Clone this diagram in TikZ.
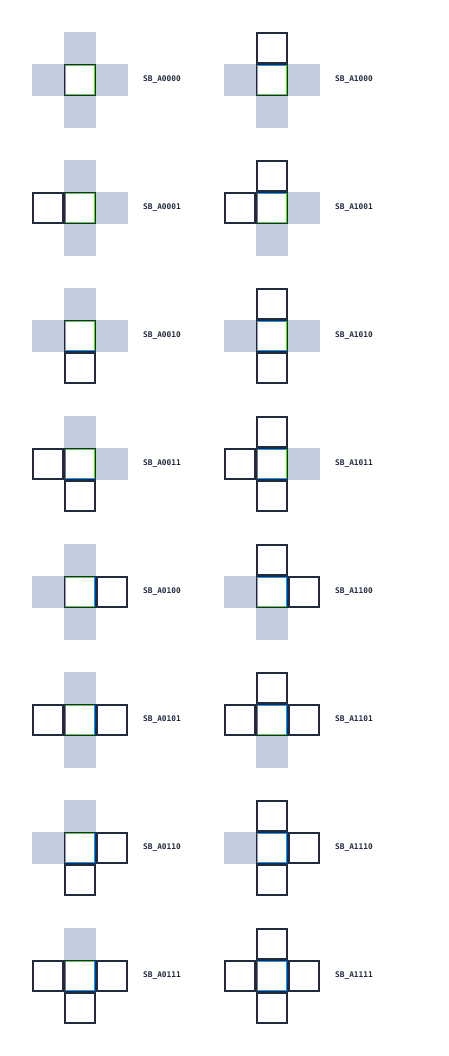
\documentclass[tikz,border=0pt]{standalone}
\usepackage{fontspec}
\setmonofont{DejaVu Sans Mono}
\usetikzlibrary{positioning}

\definecolor{sbdark}{HTML}{232A40}
\definecolor{sbgray}{HTML}{C1CCDC}
\definecolor{sbgreen}{HTML}{5CC443}
\definecolor{sbblue}{HTML}{1E90E6}

\tikzstyle{ctr} = [draw=sbdark, fill=white, line width=1pt, minimum size=31pt, inner sep=0pt, outer sep=0.5pt]
\tikzstyle{cell0} = [fill=sbgray, minimum size=32pt, inner sep=0pt, outer sep=0pt]
\tikzstyle{cell1} = [draw=sbdark, fill=white, line width=2pt, minimum size=30pt, inner sep=0pt, outer sep=1pt]
\tikzstyle{rim0} = [sbgreen, line width=1pt]
\tikzstyle{rim1} = [sbblue, line width=1pt]
\tikzstyle{lbl} = [font=\ttfamily\bfseries\fontsize{7.8}{8}\selectfont, text=sbdark, inner sep=0pt]

\begin{document}
\begin{tikzpicture}[x=1pt, y=-1pt]
  \useasboundingbox (0,0) rectangle (448,1056);
  \foreach \t in {0,1}
  \foreach \r in {0,1}
  \foreach \b in {0,1}
  \foreach \l in {0,1} {
    \pgfmathtruncatemacro{\row}{4*\r+2*\b+\l}
    \def\code{\t\r\b\l}
    \node[ctr] (c\code) at (80+192*\t, 80+128*\row) {};
    \node[cell\t, above=0pt of c\code] (t\code) {};
    \node[cell\r, right=0pt of c\code] (r\code) {};
    \node[cell\b, below=0pt of c\code] (b\code) {};
    \node[cell\l, left=0pt of c\code] (l\code) {};
    % inner rim of the centre cell
    \draw[rim\t] ([xshift=1pt,yshift=-1.5pt]c\code.north west) -- ([xshift=-1pt,yshift=-1.5pt]c\code.north east);
    \draw[rim\r] ([xshift=-1.5pt,yshift=-1pt]c\code.north east) -- ([xshift=-1.5pt,yshift=1pt]c\code.south east);
    \draw[rim\b] ([xshift=1pt,yshift=1.5pt]c\code.south west) -- ([xshift=-1pt,yshift=1.5pt]c\code.south east);
    \draw[rim\l] ([xshift=1.5pt,yshift=-1pt]c\code.north west) -- ([xshift=1.5pt,yshift=1pt]c\code.south west);
    \node[lbl, right=47pt of c\code] (n\code) {SB\_A\code};
  }
\end{tikzpicture}
\end{document}
